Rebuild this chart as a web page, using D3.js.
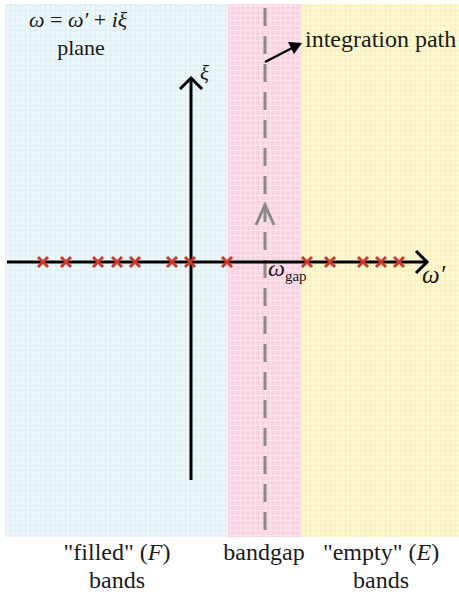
<!DOCTYPE html>
<html><head><meta charset="utf-8">
<script src="https://cdn.jsdelivr.net/npm/d3@7/dist/d3.min.js"></script>
<style>body{margin:0;background:#fff}svg{display:block}</style>
</head><body>
<script>
// Data (in ω', ξ units)
const poles = [-14.8, -12.5, -9.3, -7.4, -5.6, -1.9, -0.1, 3.6, 11.6, 13.9, 17.2, 19.0, 20.8];
const regionNames = ["filled", "gap", "empty"];
const regionStarts = [-18.6, 3.7, 11.1];
const regionEnds = [3.7, 11.1, 26.8];
const regionColors = ["#ecf7fa", "#fad3e2", "#fdf8d2"];
const regionGrid = ["#dff0f5", "#fde4ed", "#f7f0bc"];
const omegaGap = 7.4;
const bottomLabels = [["\"filled\" (F)", "bands"], ["bandgap"], ["\"empty\" (E)", "bands"]];
const labelCenters = [-7.4, 7.3, 19.0];

const W = 459, H = 597;
const x = d3.scaleLinear().domain([-18.6, 26.8]).range([5, 459]);
const y = d3.scaleLinear().domain([25.8, -27.5]).range([4, 537]);

const svg = d3.select("body").append("svg").attr("width", W).attr("height", H);
const defs = svg.append("defs");
regionNames.forEach((n, i) => {
  const p = defs.append("pattern").attr("id", "g" + n).attr("width", 5).attr("height", 5).attr("patternUnits", "userSpaceOnUse");
  p.append("rect").attr("width", 5).attr("height", 5).attr("fill", regionColors[i]);
  p.append("path").attr("d", "M0,0.5H5M0.5,0V5").attr("stroke", regionGrid[i]).attr("stroke-width", 1);
});
svg.selectAll("rect.reg").data(regionNames).join("rect").attr("class", "reg")
  .attr("x", (d, i) => x(regionStarts[i])).attr("y", y(25.8))
  .attr("width", (d, i) => x(regionEnds[i]) - x(regionStarts[i]))
  .attr("height", y(-27.5) - y(25.8))
  .attr("fill", d => "url(#g" + d + ")");

// dashed integration path
const gx = x(omegaGap);
svg.append("line").attr("x1", gx).attr("x2", gx).attr("y1", y(25.4)).attr("y2", y(-27.5))
  .attr("stroke", "#8a8a8a").attr("stroke-width", 3).attr("stroke-dasharray", "18,10");
svg.append("path").attr("d", `M${gx-9},${y(3.7)} L${gx},${y(5.7)} L${gx+9},${y(3.7)}`)
  .attr("fill", "none").attr("stroke", "#8a8a8a").attr("stroke-width", 3);

// horizontal axis
svg.append("line").attr("x1", 7).attr("x2", x(23.6)).attr("y1", y(0)).attr("y2", y(0)).attr("stroke", "#000").attr("stroke-width", 3);
svg.append("path").attr("d", `M${x(22.5)},${y(1.1)} L${x(23.6)},${y(0)} L${x(22.5)},${y(-1.1)}`).attr("fill", "none").attr("stroke", "#000").attr("stroke-width", 3);
// vertical axis
svg.append("line").attr("x1", x(0)).attr("x2", x(0)).attr("y1", y(-21.8)).attr("y2", y(18.4)).attr("stroke", "#000").attr("stroke-width", 3);
svg.append("path").attr("d", `M${x(-1.1)},${y(17.3)} L${x(0)},${y(18.4)} L${x(1.1)},${y(17.3)}`).attr("fill", "none").attr("stroke", "#000").attr("stroke-width", 3);

// poles
const s = 5;
svg.selectAll("path.pole").data(poles).join("path").attr("class", "pole")
  .attr("d", d => `M${x(d)-s},${y(0)-s}L${x(d)+s},${y(0)+s}M${x(d)-s},${y(0)+s}L${x(d)+s},${y(0)-s}`)
  .attr("stroke", "#cc3a2c").attr("stroke-width", 3);

// integration path pointer
svg.append("line").attr("x1", gx).attr("y1", 62).attr("x2", 296).attr("y2", 46).attr("stroke", "#000").attr("stroke-width", 2.5);
svg.append("path").attr("d", "M302,43 L288,42 L294,54 Z").attr("fill", "#000");

const txt = (xx, yy, size) => svg.append("text").attr("x", xx).attr("y", yy).attr("font-size", size)
  .style("font-family", '"Liberation Serif"').attr("fill", "#1a1a1a");
txt(305, 47, 24).text("integration path");

const t1 = txt(29, 27, 22);
t1.append("tspan").attr("font-style", "italic").text("ω");
t1.append("tspan").text(" = ");
t1.append("tspan").attr("font-style", "italic").text("ω′");
t1.append("tspan").text(" + ");
t1.append("tspan").attr("font-style", "italic").text("iξ");
txt(81, 55, 22).attr("text-anchor", "middle").text("plane");
txt(x(0.9), y(18.2), 21).attr("font-style", "italic").text("ξ");
txt(x(23.1), y(-2.1), 25).attr("font-style", "italic").text("ω′");
const tg = txt(gx + 3, y(-1.4), 24);
tg.append("tspan").attr("font-style", "italic").text("ω");
tg.append("tspan").attr("font-size", 15).attr("dy", 5).text("gap");

bottomLabels.forEach((lines, i) => {
  lines.forEach((ln, j) => {
    const t = txt(x(labelCenters[i]), 560 + j * 28, 24).attr("text-anchor", "middle");
    const m = ln.match(/^(.*\()(.)(\))$/);
    if (m) {
      t.append("tspan").text(m[1]);
      t.append("tspan").attr("font-style", "italic").text(m[2]);
      t.append("tspan").text(m[3]);
    } else t.text(ln);
  });
});
</script>
</body></html>
